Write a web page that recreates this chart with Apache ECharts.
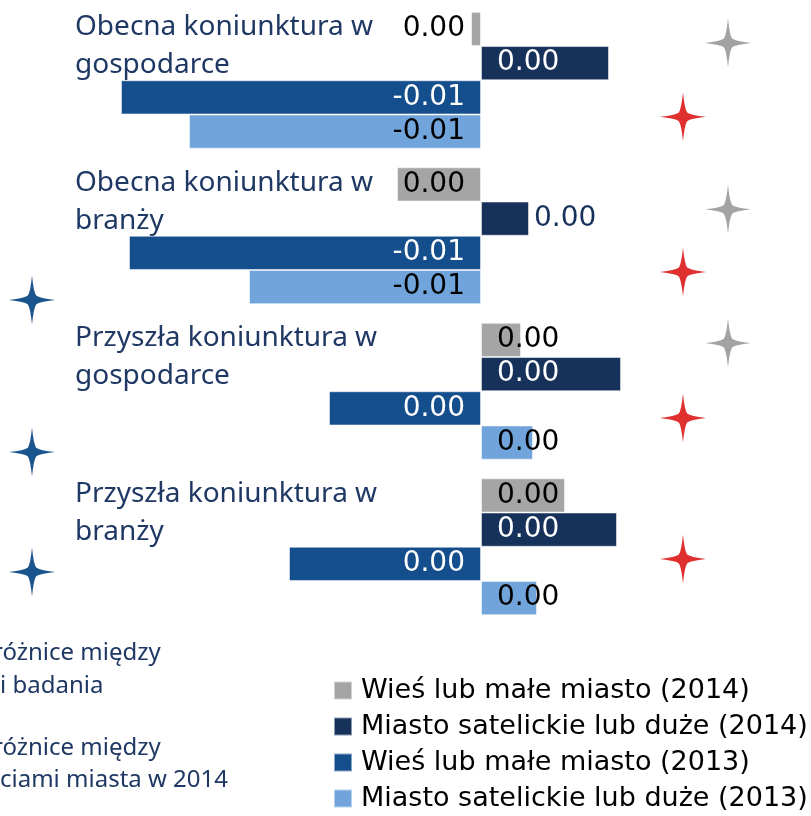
<!DOCTYPE html>
<html>
<head>
<meta charset="utf-8">
<script src="https://cdn.jsdelivr.net/npm/echarts@6/dist/echarts.min.js"></script>
<style>
  html, body { margin: 0; padding: 0; background: #fff; }
  #chart { width: 811px; height: 816px; }
</style>
</head>
<body>
<div id="chart"></div>
<script>
// kategorie (od góry)
const categories = [
  'Obecna koniunktura w\ngospodarce',
  'Obecna koniunktura w\nbranży',
  'Przyszła koniunktura w\ngospodarce',
  'Przyszła koniunktura w\nbranży'
];
const seriesNames = [
  'Wieś lub małe miasto (2014)',
  'Miasto satelickie lub duże (2014)',
  'Wieś lub małe miasto (2013)',
  'Miasto satelickie lub duże (2013)'
];
// wartości
const wies2014 = [-0.00025, -0.0021, 0.0010, 0.0021];
const miasto2014 = [0.0032, 0.0012, 0.0035, 0.0034];
const wies2013 = [-0.0090, -0.0088, -0.0038, -0.0048];
const miasto2013 = [-0.0073, -0.0058, 0.0013, 0.0014];

// gwiazdki istotności: [x, pozycja w pionie w jednostkach kategorii]
const starsGray = [[0.006175, 0.26], [0.006175, 1.33], [0.006175, 2.19]];
const starsRed = [[0.00505, 0.735], [0.00505, 1.733], [0.00505, 2.672], [0.00505, 3.579]];
const starsBlue = [[-0.011225, 1.913], [-0.011225, 2.891], [-0.011225, 3.662]];

const colors = ['#a5a5a5', '#17325a', '#144e8c', '#70a4da'];
const labelColors = ['#000', '#fff', '#fff', '#000'];
const textNavy = '#1f3864';
const starPath = 'path://M0,-1 Q0.07,-0.33 0.18,-0.18 Q0.33,-0.07 1,0 ' +
  'Q0.33,0.07 0.18,0.18 Q0.07,0.33 0,1 ' +
  'Q-0.07,0.33 -0.18,0.18 Q-0.33,0.07 -1,0 ' +
  'Q-0.33,-0.07 -0.18,-0.18 Q-0.07,-0.33 0,-1 Z';

function fmt(p) {
  const v = p.value;
  return Math.abs(v) < 0.005 ? '0.00' : v.toFixed(2);
}

function barSeries(idx, values) {
  return {
    name: seriesNames[idx],
    type: 'bar',
    barGap: '0%',
    barCategoryGap: '12%',
    itemStyle: { color: colors[idx], borderColor: 'rgba(255,255,255,0.5)', borderWidth: 1 },
    data: values.map(function (v, i) {
      const item = {
        value: v,
        label: {
          show: true,
          position: v < 0 ? 'insideRight' : 'insideLeft',
          distance: 16,
          formatter: fmt,
          color: labelColors[idx],
          fontFamily: 'DejaVu Sans',
          fontSize: 28
        }
      };
      // krótki słupek w "branży" ma etykietę na zewnątrz
      if (idx === 1 && i === 1) {
        item.label.position = 'right';
        item.label.distance = 5;
        item.label.color = '#17325a';
      }
      return item;
    })
  };
}

function starSeries(data, color) {
  return {
    type: 'scatter',
    xAxisIndex: 0,
    yAxisIndex: 1,
    symbol: starPath,
    symbolSize: [46, 49],
    itemStyle: { color: color, opacity: 1 },
    silent: true,
    data: data
  };
}

const chart = echarts.init(document.getElementById('chart'));
chart.setOption({
  animation: false,
  grid: { left: 0, right: 0, top: 2.5, bottom: 191.5 },
  legend: {
    data: seriesNames,
    orient: 'vertical',
    left: 333,
    top: 677,
    padding: 0,
    icon: 'rect',
    itemWidth: 18,
    itemHeight: 18,
    itemGap: 9,
    textStyle: { fontFamily: 'DejaVu Sans', fontSize: 27, color: '#000', lineHeight: 27, padding: [0, 0, 0, 4] }
  },
  xAxis: {
    type: 'value',
    min: -0.012025,
    max: 0.00825,
    show: false
  },
  yAxis: [
    {
      type: 'category',
      inverse: true,
      data: categories,
      axisLine: { show: false, onZero: false },
      axisTick: { show: false },
      axisLabel: {
        inside: true,
        margin: 75,
        align: 'left',
        verticalAlign: 'bottom',
        interval: 0,
        color: textNavy,
        fontFamily: 'Noto Sans',
        fontSize: 28,
        lineHeight: 38,
        padding: [0, 0, -4, 0]
      }
    },
    {
      type: 'value',
      inverse: true,
      min: 0,
      max: 4,
      show: false
    }
  ],
  graphic: [
    { type: 'text', left: -7, top: 641, style: { text: 'różnice między', fill: textNavy, font: '24px "Noto Sans"' } },
    { type: 'text', left: 0, top: 674, style: { text: 'i badania', fill: textNavy, font: '24px "Noto Sans"' } },
    { type: 'text', left: -7, top: 736, style: { text: 'różnice między', fill: textNavy, font: '24px "Noto Sans"' } },
    { type: 'text', left: 0, top: 768, style: { text: 'ciami miasta w 2014', fill: textNavy, font: '24px "Noto Sans"' } }
  ],
  series: [
    barSeries(0, wies2014),
    barSeries(1, miasto2014),
    barSeries(2, wies2013),
    barSeries(3, miasto2013),
    starSeries(starsGray, '#a3a3a3'),
    starSeries(starsRed, '#df2f2f'),
    starSeries(starsBlue, '#1b5590')
  ]
});
</script>
</body>
</html>
